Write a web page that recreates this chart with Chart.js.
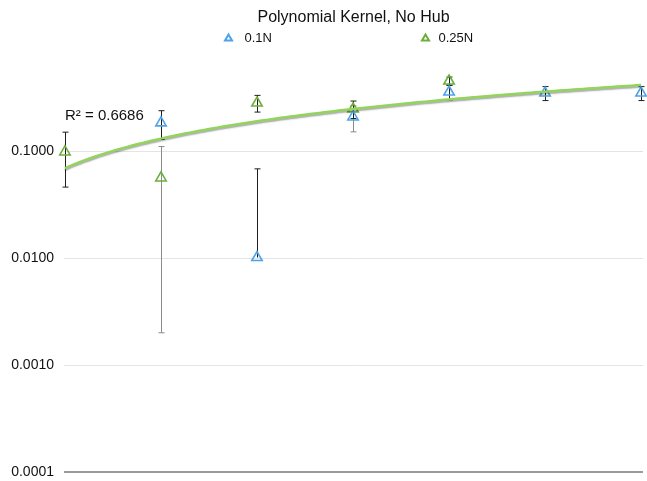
<!DOCTYPE html>
<html>
<head>
<meta charset="utf-8">
<script src="https://cdn.jsdelivr.net/npm/chart.js@4"></script>
<style>
  html, body { margin: 0; padding: 0; background: #fff; }
  #wrap { width: 647px; height: 481px; }
</style>
</head>
<body>
<div id="wrap"><canvas id="c" width="647" height="481"></canvas></div>
<script>
// Run positions along the x axis
const runs = [1, 2, 3, 4, 5, 6, 7];

// Series values and their error amounts (symmetric)
const seriesNames = ['0.1N', '0.25N'];
const values01N = [null, 0.183, 0.0101, 0.208, 0.356, 0.348, 0.348];
const errors01N = [null, 0.055, 0.058, 0.057, 0.056, 0.052, 0.052];
const values025N = [0.098, 0.056, 0.281, 0.247, 0.451, null, null];
const errors025N = [0.052, 0.054, 0.05, 0.046, 0.04, null, null];

// Power trend line y = a * x^b and its fit quality
const trendA = 0.069;
const trendB = 0.92;
const trendR2 = '0.6686';

// Y axis decades
const yTicks = [0.0001, 0.001, 0.01, 0.1];

const titleText = 'Polynomial Kernel, No Hub';
const BLUE = '#4da3ea';
const GREEN = '#6cad3c';
const TREND = '#93d45c';
const FONT = '"Liberation Sans", Arial, Helvetica, sans-serif';

const toPts = (vals) => runs.map((x, i) => ({ x, y: vals[i] }));
const trendPts = [];
for (let x = runs[0]; x <= runs[runs.length - 1] + 1e-9; x += 0.05) {
  trendPts.push({ x, y: trendA * Math.pow(x, trendB) });
}

// Error bars, drawn beneath the markers
const errorBars = {
  id: 'errorBars',
  beforeDatasetsDraw(chart) {
    const { ctx, scales: { x, y } } = chart;
    const sets = [
      { vals: values01N, errs: errors01N, grey: [3] },
      { vals: values025N, errs: errors025N, grey: [1] }
    ];
    ctx.save();
    ctx.lineWidth = 1;
    sets.forEach(s => {
      runs.forEach((r, i) => {
        const v = s.vals[i], e = s.errs[i];
        if (v == null || e == null) return;
        const px = Math.round(x.getPixelForValue(r)) + 0.5;
        const top = y.getPixelForValue(v + e);
        const hasLow = v - e > 0;
        const bot = y.getPixelForValue(hasLow ? v - e : v);
        ctx.strokeStyle = s.grey.includes(i) ? '#8a8a8a' : '#1e1e1e';
        ctx.beginPath();
        ctx.moveTo(px, top); ctx.lineTo(px, bot);
        ctx.moveTo(px - 3, top); ctx.lineTo(px + 3, top);
        if (hasLow) { ctx.moveTo(px - 3, bot); ctx.lineTo(px + 3, bot); }
        ctx.stroke();
      });
    });
    ctx.restore();
  }
};

// Soft shadow under the trend line
const trendShadow = {
  id: 'trendShadow',
  beforeDatasetDraw(chart, args) {
    if (args.index !== 0) return;
    const ctx = chart.ctx;
    ctx.save();
    ctx.shadowColor = 'rgba(0,0,0,0.35)';
    ctx.shadowOffsetY = 1.5;
    ctx.shadowBlur = 1.5;
  },
  afterDatasetDraw(chart, args) {
    if (args.index !== 0) return;
    chart.ctx.restore();
  }
};

// Title, legend and R² annotation
const annotations = {
  id: 'annotations',
  afterDraw(chart) {
    const { ctx, chartArea, scales: { x } } = chart;
    const cx = (chartArea.left + chartArea.right) / 2;
    ctx.save();
    ctx.fillStyle = '#111';
    ctx.textBaseline = 'middle';
    ctx.textAlign = 'center';
    ctx.font = '16px ' + FONT;
    ctx.fillText(titleText, cx, 18);

    ctx.font = '13px ' + FONT;
    ctx.textAlign = 'left';
    const legend = [
      { name: seriesNames[0], color: BLUE, mx: cx - 125, gap: 16 },
      { name: seriesNames[1], color: GREEN, mx: cx + 72, gap: 13 }
    ];
    legend.forEach(l => {
      const my = 38;
      ctx.strokeStyle = l.color;
      ctx.lineWidth = 2;
      ctx.beginPath();
      ctx.moveTo(l.mx, my - 3.5);
      ctx.lineTo(l.mx + 3.5, my + 2.5);
      ctx.lineTo(l.mx - 3.5, my + 2.5);
      ctx.closePath();
      ctx.stroke();
      ctx.fillStyle = '#111';
      ctx.fillText(l.name, l.mx + l.gap, my);
    });

    ctx.font = '15px ' + FONT;
    ctx.fillText('R\u00B2 = ' + trendR2, x.getPixelForValue(runs[0]), 116);
    ctx.restore();
  }
};

new Chart(document.getElementById('c'), {
  type: 'line',
  data: {
    datasets: [
      {
        label: 'trend',
        data: trendPts,
        borderColor: TREND,
        borderWidth: 2.5,
        pointRadius: 0,
        tension: 0,
        fill: false
      },
      {
        label: seriesNames[0],
        data: toPts(values01N),
        showLine: false,
        pointStyle: 'triangle',
        pointRadius: 6,
        pointBorderWidth: 1.6,
        pointBorderColor: BLUE,
        pointBackgroundColor: 'rgba(255,255,255,0)',
        clip: false
      },
      {
        label: seriesNames[1],
        data: toPts(values025N),
        showLine: false,
        pointStyle: 'triangle',
        pointRadius: 6,
        pointBorderWidth: 1.6,
        pointBorderColor: GREEN,
        pointBackgroundColor: 'rgba(255,255,255,0)',
        clip: false
      }
    ]
  },
  options: {
    responsive: false,
    animation: false,
    layout: { autoPadding: false, padding: { top: 44, right: 4, bottom: 9, left: 0 } },
    plugins: {
      legend: { display: false },
      title: { display: false },
      tooltip: { enabled: false }
    },
    scales: {
      x: {
        type: 'linear',
        display: false,
        min: 0.99,
        max: 7.02
      },
      y: {
        type: 'logarithmic',
        min: 0.0001,
        max: 1,
        afterBuildTicks(scale) {
          scale.ticks = yTicks.map(v => ({ value: v }));
        },
        afterFit(scale) {
          scale.width = 64;
          scale.paddingTop = 0;
          scale.paddingBottom = 0;
        },
        border: { display: false },
        grid: {
          drawTicks: false,
          color: (c) => (c.tick && c.tick.value === yTicks[0]) ? '#9a9a9a' : '#e4e4e4',
          lineWidth: (c) => (c.tick && c.tick.value === yTicks[0]) ? 2 : 1
        },
        ticks: {
          padding: 10,
          color: '#111',
          font: { family: FONT, size: 14 },
          callback: (v) => Number(v).toFixed(4)
        }
      }
    }
  },
  plugins: [errorBars, trendShadow, annotations]
});
</script>
</body>
</html>
